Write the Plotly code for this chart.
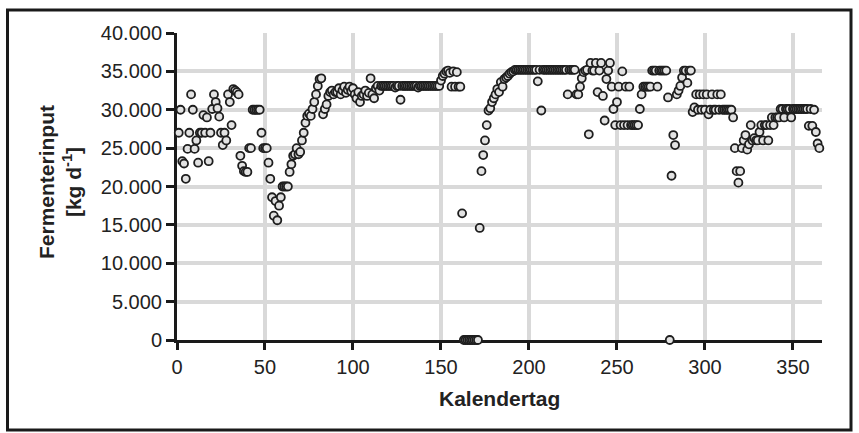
import plotly.graph_objects as go

# Calendar day (1..365) and daily digester input [kg/d]
days = list(range(1, 366))

fermenter_input = [
    # 1-10
    27000, 30000, 23300, 23000, 21000, 24900, 27000, 32000, 30000, 24900,
    # 11-20
    26000, 23100, 27000, 27000, 29300, 27000, 29000, 23300, 27000, 30100,
    # 21-30
    32000, 31000, 30200, 29100, 27000, 25400, 27000, 26000, 32000, 31000,
    # 31-40
    28000, 32700, 32500, 32300, 32000, 24000, 22700, 22000, 21900, 21900,
    # 41-50
    25000, 25000, 30000, 30000, 30000, 30000, 30000, 27000, 25000, 25000,
    # 51-60
    25000, 23100, 21000, 18600, 16200, 18100, 15600, 17500, 18600, 20000,
    # 61-70
    20000, 20000, 20000, 21900, 22900, 24000, 24200, 25000, 24200, 24500,
    # 71-80
    26000, 27000, 28300, 29200, 29500, 29200, 30100, 31000, 32000, 33100,
    # 81-90
    34000, 34100, 29400, 30100, 30700, 31800, 32300, 32500, 32000, 32300,
    # 91-100
    32300, 32800, 32000, 32500, 33000, 32200, 32600, 33000, 32400, 32800,
    # 101-110
    32000, 31500, 32300, 31000, 31800, 32000, 32500, 31800, 32200, 34100,
    # 111-120
    32000, 31500, 32800, 33100, 32500, 33100, 33100, 33100, 33100, 33100,
    # 121-130
    33100, 33100, 33100, 32900, 33100, 33100, 31300, 33100, 33100, 33100,
    # 131-140
    33100, 33100, 33100, 33100, 33100, 33100, 32900, 33100, 33100, 33100,
    # 141-150
    33100, 33100, 33100, 33100, 33100, 33100, 33100, 33100, 33100, 33800,
    # 151-160
    34400, 34700, 35000, 35100, 34800, 33000, 35000, 33000, 34900, 33000,
    # 161-170
    33000, 16500, 0, 0, 0, 0, 0, 0, 0, 0,
    # 171-180
    0, 14600, 22000, 24100, 26000, 28000, 29900, 30200, 31000, 31500,
    # 181-190
    32000, 32700, 32300, 33600, 33000, 34000, 34200, 34400, 34700, 34900,
    # 191-200
    35000, 35200, 35200, 35200, 35200, 35200, 35200, 35200, 35200, 35200,
    # 201-210
    35200, 35200, 35200, 35200, 33700, 35200, 29900, 35200, 35200, 35200,
    # 211-220
    35200, 35200, 35200, 35200, 35200, 35200, 35200, 35200, 35200, 35200,
    # 221-230
    35200, 32000, 35200, 35200, 35200, 35200, 32000, 32000, 33000, 34100,
    # 231-240
    34900, 35100, 35200, 26800, 36100, 35100, 35100, 36100, 32300, 35100,
    # 241-250
    36100, 31800, 28600, 34000, 35100, 36100, 33000, 30100, 28000, 31000,
    # 251-260
    33000, 28000, 35000, 28000, 33000, 28000, 33000, 28000, 28000, 28000,
    # 261-270
    28000, 28000, 30100, 32000, 33000, 33000, 33000, 33000, 33000, 35100,
    # 271-280
    35100, 35100, 33000, 35100, 35100, 35100, 35100, 35100, 31600, 0,
    # 281-290
    21400, 26700, 25400, 32000, 32500, 33100, 34200, 35100, 35100, 33500,
    # 291-300
    35100, 35100, 29700, 30300, 32000, 30000, 32000, 30000, 32000, 30000,
    # 301-310
    32000, 29400, 30000, 32000, 30000, 30000, 32000, 30000, 32000, 30000,
    # 311-320
    30000, 30000, 30000, 30000, 30000, 29000, 25000, 22000, 20500, 22000,
    # 321-330
    25000, 26000, 26700, 24800, 25500, 28000, 26000, 26300, 26000, 26000,
    # 331-340
    27100, 28000, 26000, 28000, 28000, 26000, 28000, 29000, 28000, 29000,
    # 341-350
    29000, 29000, 30100, 30100, 29000, 30100, 30100, 30100, 29000, 30100,
    # 351-360
    30100, 30100, 30100, 30100, 30100, 30100, 30100, 30100, 27900, 30100,
    # 361-365
    27900, 30000, 27100, 25600, 25000,
]

x_ticks = [0, 50, 100, 150, 200, 250, 300, 350]
y_ticks = [0, 5000, 10000, 15000, 20000, 25000, 30000, 35000, 40000]

x_title = "<b>Kalendertag</b>"
y_title = "<b>Fermenterinput<br>[kg d<sup>-1</sup>]</b>"

AX = "#1a1a1a"
GRID = "#d9d9d9"

fig = go.Figure(
    go.Scatter(
        x=days,
        y=fermenter_input,
        mode="markers",
        marker=dict(size=8, color="#e2e2e2", line=dict(color="#1e1e1e", width=1.8)),
        cliponaxis=False,
        hoverinfo="skip",
    )
)

fig.update_layout(
    width=859,
    height=433,
    margin=dict(l=177, r=37, t=33, b=93),
    paper_bgcolor="white",
    plot_bgcolor="white",
    separators=",.",
    showlegend=False,
    font=dict(family="Liberation Sans, Arial, sans-serif", size=20, color="#222222"),
)

fig.update_xaxes(
    range=[0, 366.5],
    tickvals=x_ticks,
    showgrid=True, gridcolor=GRID, gridwidth=4,
    showline=True, linecolor=AX, linewidth=3,
    ticks="outside", ticklen=7, tickwidth=3, tickcolor=AX,
    zeroline=False, layer="below traces",
)
fig.update_yaxes(
    range=[0, 40000],
    tickvals=y_ticks,
    tickformat=",d",
    showgrid=True, gridcolor=GRID, gridwidth=4,
    showline=True, linecolor=AX, linewidth=3,
    ticks="outside", ticklen=8, tickwidth=3, tickcolor=AX,
    zeroline=False, layer="below traces",
)

fig.add_annotation(
    text=x_title, xref="paper", yref="paper", x=0.5, y=(340 - 398) / 307,
    xanchor="center", yanchor="middle", showarrow=False,
    font=dict(size=21, color="#222222"),
)
fig.add_annotation(
    text=y_title, xref="paper", yref="paper", x=(60 - 177) / 645, y=(340 - 182) / 307,
    xanchor="center", yanchor="middle", showarrow=False, textangle=-90,
    font=dict(size=21, color="#222222"),
)

# outer frame
fig.add_shape(
    type="rect", xref="paper", yref="paper",
    x0=(7.5 - 177) / 645, x1=(851 - 177) / 645,
    y0=(340 - 430) / 307, y1=(340 - 10) / 307,
    line=dict(color=AX, width=3), fillcolor="rgba(0,0,0,0)", layer="above",
)

fig.write_html("out.html")
